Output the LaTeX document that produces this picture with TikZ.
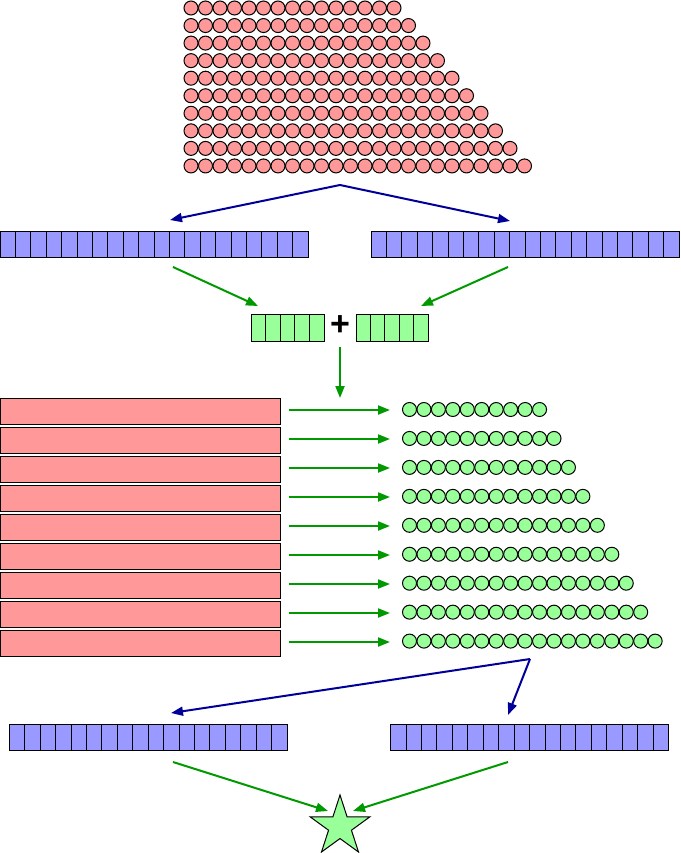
\documentclass[tikz,border=0pt]{standalone}
\usepackage{fontspec}
\setsansfont{Liberation Sans}
\usetikzlibrary{arrows.meta,shapes.geometric}
\definecolor{pinkfill}{RGB}{255,153,153}
\definecolor{bluefill}{RGB}{153,153,255}
\definecolor{greenfill}{RGB}{153,255,153}
\definecolor{arrowblue}{RGB}{0,0,153}
\definecolor{arrowgreen}{RGB}{0,153,0}
\tikzset{
  ball/.style={draw=black, line width=1pt},
  cell/.style={draw=black, line width=1pt},
  bluearrow/.style={draw=arrowblue, line width=2pt, -{Triangle[length=12pt,width=9pt]}},
  greenarrow/.style={draw=arrowgreen, line width=2pt, -{Triangle[length=12pt,width=9pt]}},
}

\begin{document}
\begin{tikzpicture}[x=1pt,y=-1pt]
\useasboundingbox (0,0) rectangle (680,853);

% triangle of red balls on top
\foreach \r in {0,...,9} {
  \pgfmathtruncatemacro{\last}{14+\r}
  \foreach \i in {0,...,\last}
    \draw [ball, fill=pinkfill] (191+14.5*\i, 8+17.55*\r) circle (7pt);
}

% two long blue bars
\foreach \k in {0,...,9} {
  \draw [cell, fill=bluefill] (30.8*\k, 231) rectangle +(30.8, 26);
  \draw [cell] (30.8*\k+15.4, 231) -- +(0, 26);
  \draw [cell, fill=bluefill] (371+30.8*\k, 231) rectangle +(30.8, 26);
  \draw [cell] (371+30.8*\k+15.4, 231) -- +(0, 26);
}

% small green boxes and the plus
\foreach \k in {0,...,4} {
  \draw [cell, fill=greenfill] (251+14.6*\k, 314) rectangle +(14.6, 27);
  \draw [cell, fill=greenfill] (356+14.4*\k, 314) rectangle +(14.4, 27);
}
\node [font=\sffamily\bfseries\fontsize{34}{34}\selectfont, inner sep=0] (plus) at (340,326) {+};

% red bars, arrows and green rows
\foreach \k in {0,...,8} {
  \draw [cell, fill=pinkfill] (0, 398+29*\k) rectangle (280, 424+29*\k);
  \coordinate (row\k-from) at (289, 410+29*\k);
  \coordinate (row\k-to) at (390, 410+29*\k);
  \draw [greenarrow] (row\k-from) -- (row\k-to);
  \pgfmathtruncatemacro{\last}{9+\k}
  \foreach \i in {0,...,\last}
    \draw [ball, fill=greenfill] (409.5+14.45*\i, 409.5+28.95*\k) circle (7pt);
}

% two short blue bars
\foreach \k in {0,...,8} {
  \draw [cell, fill=bluefill] (9.3+30.86*\k, 724) rectangle +(30.86, 26);
  \draw [cell] (9.3+30.86*\k+15.43, 724) -- +(0, 26);
  \draw [cell, fill=bluefill] (390.7+30.86*\k, 724) rectangle +(30.86, 26);
  \draw [cell] (390.7+30.86*\k+15.43, 724) -- +(0, 26);
}

\node [star, star points=5, star point ratio=2.618, minimum size=63pt, inner sep=0,
       draw, line width=1pt, fill=greenfill] (star) at (340,826.5) {};

% connectors
\coordinate (topsplit) at (340,185);
\coordinate (bluetopL) at (170,220);
\coordinate (bluetopR) at (510,221);
\coordinate (blueL-out) at (173,267);
\coordinate (blueR-out) at (508,267);
\coordinate (sumL) at (258,306);
\coordinate (sumR) at (421,306);
\coordinate (sum-out) at (340,347);
\coordinate (rows-in) at (340,398);
\coordinate (botsplit) at (530,659);
\coordinate (bluebotL) at (171,713);
\coordinate (bluebotR) at (508,715);
\coordinate (shortL-out) at (173,762);
\coordinate (shortR-out) at (508,762);
\coordinate (starL) at (328,811);
\coordinate (starR) at (353,811);

\draw [bluearrow] (topsplit) -- (bluetopL);
\draw [bluearrow] (topsplit) -- (bluetopR);
\draw [greenarrow] (blueL-out) -- (sumL);
\draw [greenarrow] (blueR-out) -- (sumR);
\draw [greenarrow] (sum-out) -- (rows-in);
\draw [bluearrow] (botsplit) -- (bluebotL);
\draw [bluearrow] (botsplit) -- (bluebotR);
\draw [greenarrow] (shortL-out) -- (starL);
\draw [greenarrow] (shortR-out) -- (starR);

\end{tikzpicture}
\end{document}
